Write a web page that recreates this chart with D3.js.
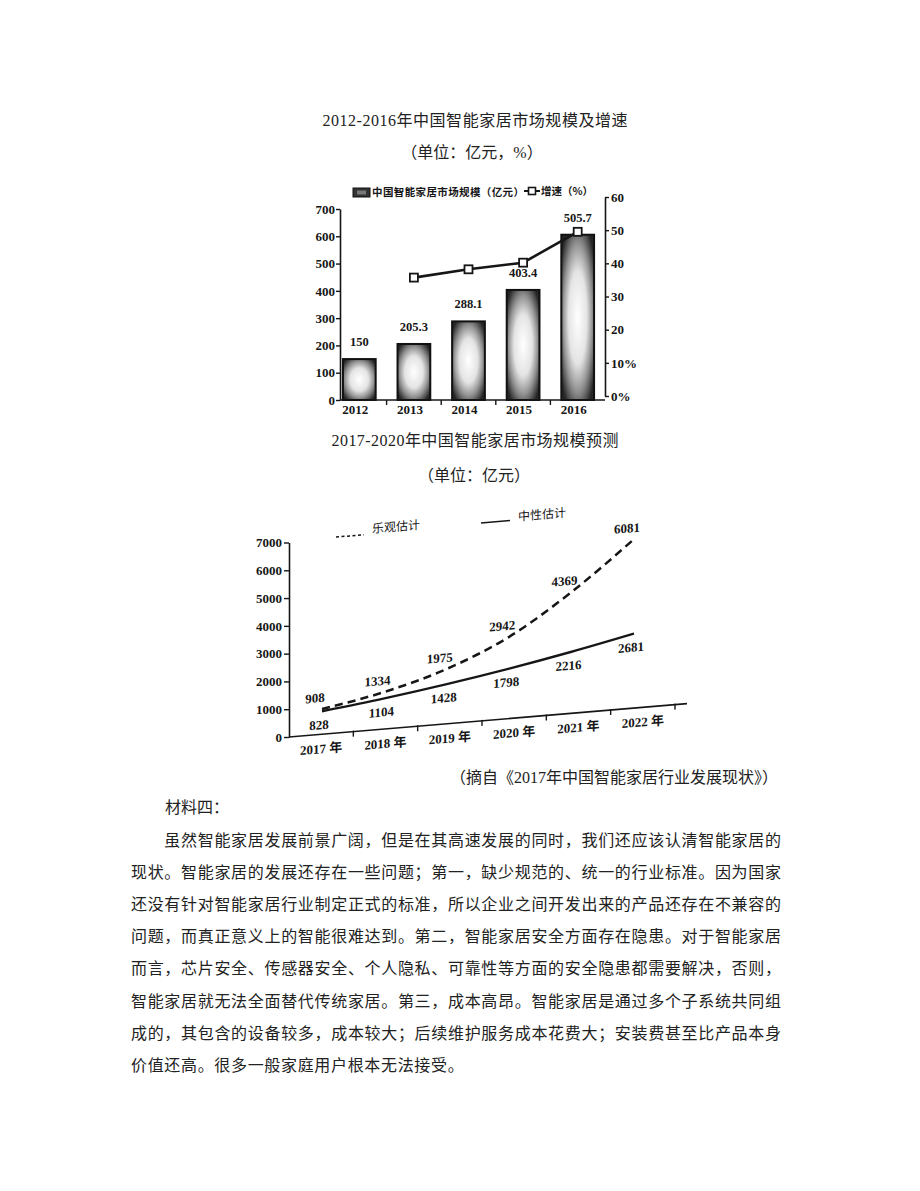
<!DOCTYPE html>
<html>
<head>
<meta charset="utf-8">
<script src="https://cdn.jsdelivr.net/npm/d3@7"></script>
<style>
  html, body { margin: 0; padding: 0; background: #fff; }
  svg { display: block; }
</style>
</head>
<body>
<div id="chart"></div>
<script>
// ---------- data: chart 1 ----------
const topTitle = "2012-2016年中国智能家居市场规模及增速";
const topSubtitle = "（单位：亿元，%）";
const topYears = ["2012", "2013", "2014", "2015", "2016"];
const marketSize = [150, 205.3, 288.1, 403.4, 605.7];
const marketSizeLabels = ["150", "205.3", "288.1", "403.4", "505.7"];
const growthYears = ["2013", "2014", "2015", "2016"];
const growthRate = [35.7, 38.2, 40.2, 49.5];
const leftTicks = [0, 100, 200, 300, 400, 500, 600, 700];
const rightTicks = [0, 10, 20, 30, 40, 50, 60];
const rightTickLabels = ["0%", "10%", "20", "30", "40", "50", "60"];
const legendBar = "中国智能家居市场规模（亿元）";
const legendLine = "增速（%）";

// ---------- data: chart 2 ----------
const bottomTitle = "2017-2020年中国智能家居市场规模预测";
const bottomSubtitle = "（单位：亿元）";
const forecastYears = ["2017", "2018", "2019", "2020", "2021", "2022"];
const forecastTickLabels = ["2017 年", "2018 年", "2019 年", "2020 年", "2021 年", "2022 年"];
const optimistic = [908, 1334, 1975, 2942, 4369, 6081];
const neutral = [828, 1104, 1428, 1798, 2216, 2681];
const bottomTicks = [0, 1000, 2000, 3000, 4000, 5000, 6000, 7000];
const legendOptimistic = "乐观估计";
const legendNeutral = "中性估计";

// ---------- text ----------
const sourceNote = "（摘自《2017年中国智能家居行业发展现状》）";
const materialHead = "材料四：";
const paragraphLines = [
  "虽然智能家居发展前景广阔，但是在其高速发展的同时，我们还应该认清智能家居的",
  "现状。智能家居的发展还存在一些问题；第一，缺少规范的、统一的行业标准。因为国家",
  "还没有针对智能家居行业制定正式的标准，所以企业之间开发出来的产品还存在不兼容的",
  "问题，而真正意义上的智能很难达到。第二，智能家居安全方面存在隐患。对于智能家居",
  "而言，芯片安全、传感器安全、个人隐私、可靠性等方面的安全隐患都需要解决，否则，",
  "智能家居就无法全面替代传统家居。第三，成本高昂。智能家居是通过多个子系统共同组",
  "成的，其包含的设备较多，成本较大；后续维护服务成本花费大；安装费甚至比产品本身",
  "价值还高。很多一般家庭用户根本无法接受。"
];

const W = 920, H = 1191;
const CJK = "'Noto Sans CJK SC', 'Noto Sans', sans-serif";
const SERIF = "'Liberation Serif', 'DejaVu Serif', 'Noto Sans CJK SC', serif";
const MIXED = "'Liberation Serif', 'Noto Sans CJK SC', serif";
const INK = "#161616";

const svg = d3.select("#chart").append("svg")
  .attr("width", W).attr("height", H)
  .attr("viewBox", `0 0 ${W} ${H}`);
svg.append("rect").attr("width", W).attr("height", H).attr("fill", "#fff");

const defs = svg.append("defs");
const grad = defs.append("radialGradient").attr("id", "barGrad")
  .attr("cx", "50%").attr("cy", "50%").attr("r", "62%");
grad.append("stop").attr("offset", "0%").attr("stop-color", "#ffffff");
grad.append("stop").attr("offset", "45%").attr("stop-color", "#e4e4e4");
grad.append("stop").attr("offset", "72%").attr("stop-color", "#929292");
grad.append("stop").attr("offset", "100%").attr("stop-color", "#262626");

// ---------- titles ----------
function title(txt, x, y, len) {
  const t = svg.append("text").attr("x", x).attr("y", y)
    .attr("text-anchor", "middle")
    .attr("font-family", MIXED).attr("font-size", 16).attr("fill", "#222")
    .text(txt);
  if (len) t.attr("textLength", len).attr("lengthAdjust", "spacing");
  return t;
}
title(topTitle, 475, 126, 305);
title(topSubtitle, 472, 157.5);
title(bottomTitle, 475, 446, 287);
title(bottomSubtitle, 474, 481);

// ================= chart 1 =================
const g1 = svg.append("g");
const x1 = d3.scaleBand().domain(topYears).range([332, 605])
  .paddingInner(0.4).paddingOuter(0.2);
const yL = d3.scaleLinear().domain([0, 700]).range([400, 209]);
const yR = d3.scaleLinear().domain([0, 60]).range([396, 197]);

// bars
g1.selectAll("rect.bar").data(topYears).join("rect")
  .attr("class", "bar")
  .attr("x", d => x1(d))
  .attr("width", x1.bandwidth())
  .attr("y", (d, i) => yL(marketSize[i]))
  .attr("height", (d, i) => yL(0) - yL(marketSize[i]))
  .attr("fill", "url(#barGrad)")
  .attr("stroke", "#111").attr("stroke-width", 2);

// value labels
g1.selectAll("text.val").data(topYears).join("text")
  .attr("class", "val")
  .attr("x", d => x1(d) + x1.bandwidth() / 2)
  .attr("y", (d, i) => yL(marketSize[i]) - 13)
  .attr("text-anchor", "middle")
  .attr("font-family", SERIF).attr("font-weight", "bold").attr("font-size", 12.5)
  .attr("fill", INK)
  .text((d, i) => marketSizeLabels[i]);

// left axis
const axL = g1.append("g").attr("transform", "translate(340,0)")
  .call(d3.axisLeft(yL).tickValues(leftTicks).tickSize(4).tickPadding(1).tickSizeOuter(0)
    .tickFormat(d3.format("d")));
axL.select(".domain").attr("stroke", INK).attr("stroke-width", 1.6);
axL.selectAll(".tick line").attr("stroke", INK).attr("stroke-width", 1.4);
axL.selectAll(".tick text").attr("font-family", SERIF).attr("font-weight", "bold")
  .attr("font-size", 13).attr("fill", INK);

// right axis
const axR = g1.append("g").attr("transform", "translate(605,0)")
  .call(d3.axisRight(yR).tickValues(rightTicks).tickSize(4).tickPadding(2).tickSizeOuter(0)
    .tickFormat((d, i) => rightTickLabels[i]));
axR.select(".domain").attr("stroke", INK).attr("stroke-width", 1.6);
axR.selectAll(".tick line").attr("stroke", INK).attr("stroke-width", 1.4);
axR.selectAll(".tick text").attr("font-family", SERIF).attr("font-weight", "bold")
  .attr("font-size", 13).attr("fill", INK);

// x axis
g1.append("line").attr("x1", 340).attr("x2", 605).attr("y1", 400).attr("y2", 400)
  .attr("stroke", INK).attr("stroke-width", 1.6);
const step1 = x1.step();
g1.selectAll("line.xt").data(topYears.slice(1)).join("line")
  .attr("class", "xt")
  .attr("x1", d => x1(d) - step1 * 0.2).attr("x2", d => x1(d) - step1 * 0.2)
  .attr("y1", 400).attr("y2", 405)
  .attr("stroke", INK).attr("stroke-width", 1.4);
g1.selectAll("text.xl").data(topYears).join("text")
  .attr("class", "xl")
  .attr("x", d => x1(d) + x1.bandwidth() / 2 - 4)
  .attr("y", 414)
  .attr("text-anchor", "middle")
  .attr("font-family", SERIF).attr("font-weight", "bold").attr("font-size", 13)
  .attr("fill", INK)
  .text(d => d);

// growth line
const cx1 = d => x1(d) + x1.bandwidth() / 2;
const growthLine = d3.line().x(d => cx1(d[0])).y(d => yR(d[1]));
const growthPts = growthYears.map((y, i) => [y, growthRate[i]]);
g1.append("path").datum(growthPts).attr("d", growthLine)
  .attr("fill", "none").attr("stroke", INK).attr("stroke-width", 2.6);
g1.selectAll("rect.mk").data(growthPts).join("rect")
  .attr("class", "mk")
  .attr("x", d => cx1(d[0]) - 4).attr("y", d => yR(d[1]) - 4)
  .attr("width", 8).attr("height", 8)
  .attr("fill", "#fff").attr("stroke", INK).attr("stroke-width", 1.8);

// legend
g1.append("rect").attr("x", 353).attr("y", 188).attr("width", 17).attr("height", 9)
  .attr("fill", "#333").attr("stroke", "#111").attr("stroke-width", 1);
g1.append("rect").attr("x", 357).attr("y", 190.5).attr("width", 9).attr("height", 4)
  .attr("fill", "#777");
g1.append("text").attr("x", 372).attr("y", 196)
  .attr("font-family", CJK).attr("font-weight", "bold").attr("font-size", 10.5)
  .attr("fill", INK).attr("textLength", 152).attr("lengthAdjust", "spacing")
  .text(legendBar);
g1.append("line").attr("x1", 524).attr("x2", 540).attr("y1", 191).attr("y2", 191)
  .attr("stroke", INK).attr("stroke-width", 2);
g1.append("rect").attr("x", 528.5).attr("y", 187.5).attr("width", 7).attr("height", 7)
  .attr("fill", "#fff").attr("stroke", INK).attr("stroke-width", 1.6);
g1.append("text").attr("x", 541).attr("y", 195)
  .attr("font-family", CJK).attr("font-weight", "bold").attr("font-size", 10.5)
  .attr("fill", INK)
  .text(legendLine);

// ================= chart 2 =================
const ox = 289, oy = 737;
const skewDeg = -Math.atan(33.3 / 397.4) * 180 / Math.PI;
const y2 = d3.scaleLinear().domain([0, 7000]).range([oy, 542.5]);
const x2 = d3.scaleBand().domain(forecastYears).range([ox, 675]);
const xp = d3.scalePoint().domain(forecastYears).range([322, 634]);

// y axis (not skewed)
const ax2 = svg.append("g").attr("transform", `translate(${ox},0)`)
  .call(d3.axisLeft(y2).tickValues(bottomTicks).tickSize(5).tickPadding(2).tickSizeOuter(0)
    .tickFormat(d3.format("d")));
ax2.select(".domain").attr("stroke", INK).attr("stroke-width", 1.6);
ax2.selectAll(".tick line").attr("stroke", INK).attr("stroke-width", 1.4);
ax2.selectAll(".tick text").attr("font-family", SERIF).attr("font-weight", "bold")
  .attr("font-size", 13).attr("fill", INK);

// skewed plot group
const g2 = svg.append("g")
  .attr("transform", `translate(${ox},${oy}) skewY(${skewDeg}) translate(${-ox},${-oy})`);

g2.append("line").attr("x1", ox).attr("x2", 687).attr("y1", oy).attr("y2", oy)
  .attr("stroke", INK).attr("stroke-width", 1.6);
g2.selectAll("line.xt2").data(forecastYears).join("line")
  .attr("class", "xt2")
  .attr("x1", d => x2(d) + x2.bandwidth()).attr("x2", d => x2(d) + x2.bandwidth())
  .attr("y1", oy - 1).attr("y2", oy + 5)
  .attr("stroke", INK).attr("stroke-width", 1.4);
g2.selectAll("text.xl2").data(forecastYears).join("text")
  .attr("class", "xl2")
  .attr("x", d => x2(d) + x2.bandwidth() / 2)
  .attr("y", oy + 19)
  .attr("text-anchor", "middle")
  .attr("font-family", MIXED).attr("font-weight", "bold").attr("font-size", 13)
  .attr("fill", INK)
  .text((d, i) => forecastTickLabels[i]);

const line2 = d3.line().x(d => xp(d[0])).y(d => y2(d[1])).curve(d3.curveMonotoneX);
const optPts = forecastYears.map((y, i) => [y, optimistic[i]]);
const neuPts = forecastYears.map((y, i) => [y, neutral[i]]);

g2.append("path").datum(optPts).attr("d", line2)
  .attr("fill", "none").attr("stroke", INK).attr("stroke-width", 2.6)
  .attr("stroke-dasharray", "8,5");
g2.append("path").datum(neuPts).attr("d", line2)
  .attr("fill", "none").attr("stroke", INK).attr("stroke-width", 2.4);

g2.selectAll("text.opt").data(optPts).join("text")
  .attr("class", "opt")
  .attr("x", d => xp(d[0]) - 7).attr("y", d => y2(d[1]) - 7)
  .attr("text-anchor", "middle")
  .attr("font-family", SERIF).attr("font-weight", "bold").attr("font-size", 13)
  .attr("fill", INK).text(d => d[1]);
g2.selectAll("text.neu").data(neuPts).join("text")
  .attr("class", "neu")
  .attr("x", d => xp(d[0]) - 3).attr("y", d => y2(d[1]) + 18)
  .attr("text-anchor", "middle")
  .attr("font-family", SERIF).attr("font-weight", "bold").attr("font-size", 13)
  .attr("fill", INK).text(d => d[1]);

// legend (skewed)
g2.append("line").attr("x1", 336).attr("x2", 364).attr("y1", 541).attr("y2", 541)
  .attr("stroke", INK).attr("stroke-width", 1.5).attr("stroke-dasharray", "3,2.5");
g2.append("text").attr("x", 372).attr("y", 540)
  .attr("font-family", CJK).attr("font-size", 12).attr("fill", INK)
  .text(legendOptimistic);
g2.append("line").attr("x1", 481).attr("x2", 510).attr("y1", 539).attr("y2", 539)
  .attr("stroke", INK).attr("stroke-width", 1.5);
g2.append("text").attr("x", 518).attr("y", 540)
  .attr("font-family", CJK).attr("font-size", 12).attr("fill", INK)
  .text(legendNeutral);

// ================= text block =================
svg.append("text").attr("x", 778).attr("y", 783).attr("text-anchor", "end")
  .attr("font-family", MIXED).attr("font-size", 16).attr("fill", "#222")
  .text(sourceNote);
svg.append("text").attr("x", 165).attr("y", 813)
  .attr("font-family", CJK).attr("font-size", 16).attr("fill", "#222")
  .text(materialHead);
const leftX = 131, rightX = 781, firstLineY = 846, lineGap = 32.1;
paragraphLines.forEach((ln, i) => {
  const x = i === 0 ? leftX + 2 * (rightX - leftX) / 39 : leftX;
  const t = svg.append("text").attr("x", x).attr("y", firstLineY + i * lineGap)
    .attr("font-family", CJK).attr("font-size", 16).attr("fill", "#222")
    .text(ln);
  if (i < paragraphLines.length - 1) {
    t.attr("textLength", rightX - x).attr("lengthAdjust", "spacing");
  } else {
    t.attr("letter-spacing", (rightX - leftX) / 39 - 16);
  }
});
</script>
</body>
</html>
